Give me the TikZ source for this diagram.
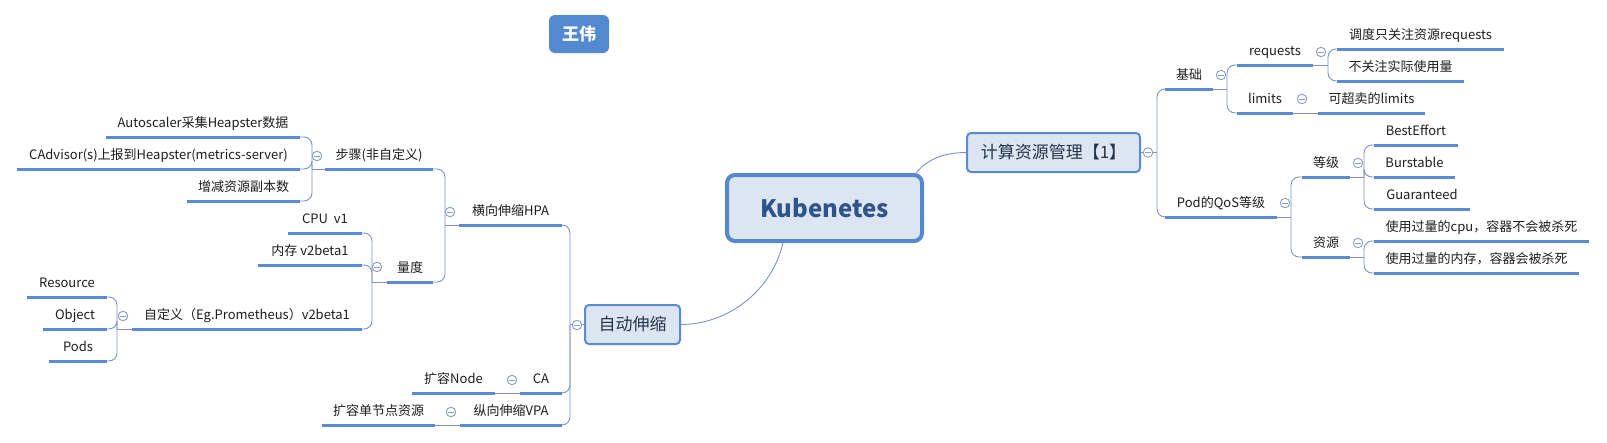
\documentclass[tikz,border=0pt]{standalone}
\usepackage{fontspec}
\setmainfont{Noto Sans CJK SC}
\definecolor{ulc}{HTML}{5A8AD0}
\definecolor{conc}{HTML}{7D93C6}
\definecolor{boxfill}{HTML}{DCE6F2}
\definecolor{boxdraw}{HTML}{5A8AD0}
\definecolor{rootdraw}{HTML}{5588CC}
\definecolor{roottext}{HTML}{2F5489}
\definecolor{boxtext}{HTML}{243447}
\definecolor{leaftext}{HTML}{1E1E1E}
\definecolor{foldc}{HTML}{8A9FC6}
\definecolor{namefill}{HTML}{5289CF}
\newcommand\lfnt{\fontsize{13}{15}\selectfont}
\newcommand\bxfnt{\fontsize{17}{20}\selectfont}
\begin{document}
\begin{tikzpicture}[x=1pt,y=-1pt,
  leaf/.style={font=\lfnt, text=leaftext, inner sep=0pt, minimum height=26pt,
    text height=10pt, text depth=3pt, anchor=south, align=center},
  ul/.style={draw=ulc, line width=3pt},
  con/.style={draw=conc, line width=0.9pt, rounded corners=8pt},
  rootcon/.style={draw=conc, line width=0.9pt},
  box/.style={draw=boxdraw, line width=2pt, fill=boxfill, rounded corners=4pt,
    font=\bxfnt, text=boxtext, inner sep=0pt},
  fold/.style={circle, draw=foldc, fill=white, line width=0.9pt, minimum size=9.5pt, inner sep=0pt,
    path picture={\draw[foldc, line width=0.9pt] ([xshift=-2.6pt]path picture bounding box.center) -- ([xshift=2.6pt]path picture bounding box.center);}}
]
\useasboundingbox[fill=white] (0,0) rectangle (1607,442);

% ---- main boxes ----
\node[draw=rootdraw, line width=4pt, fill=boxfill, rounded corners=8pt,
  minimum width=195pt, minimum height=66pt, inner sep=0pt,
  font=\bfseries\fontsize{24}{28}\selectfont, text=roottext] (k) at (824.5,208) {Kubenetes};
\node[box, minimum width=95pt, minimum height=39pt] (zd) at (632.5,324.5) {自动伸缩};
\node[box, minimum width=173pt, minimum height=39pt] (calc) at (1053.5,152.5) {计算资源管理【1】};
\node[fill=namefill, rounded corners=6pt, minimum width=60pt, minimum height=38pt, inner sep=0pt,
  text=white, font=\bfseries\fontsize{17}{20}\selectfont] (ww) at (579,34) {王伟};

% ---- left side nodes ----
\node[leaf, minimum width=194pt] (auto) at (203,137) {Autoscaler采集Heapster数据};
\node[leaf, minimum width=283pt] (cadv) at (158.5,169) {CAdvisor(s)上报到Heapster(metrics-server)};
\node[leaf, minimum width=113pt] (zeng) at (243.5,201) {增减资源副本数};
\node[leaf, minimum width=108pt] (buzhou) at (379,169) {步骤(非自定义)};
\node[leaf, minimum width=103pt] (hpa) at (510.5,225) {横向伸缩HPA};
\node[leaf, minimum width=46pt] (liangdu) at (410,282) {量度};
\node[leaf, minimum width=74pt] (cpu) at (325,233) {CPU~~v1};
\node[leaf, minimum width=104pt] (mem) at (310,265) {内存 v2beta1};
\node[leaf, minimum width=230pt] (custom) at (247,329) {自定义（Eg.Prometheus）v2beta1};
\node[leaf, minimum width=80pt] (res) at (67,297) {Resource};
\node[leaf, minimum width=64pt] (obj) at (75,329) {Object};
\node[leaf, minimum width=58pt] (pods) at (78,361) {Pods};
\node[leaf, minimum width=42pt] (ca) at (541,393) {CA};
\node[leaf, minimum width=83pt] (knode) at (453.5,393) {扩容Node};
\node[leaf, minimum width=102pt] (vpa) at (511,425) {纵向伸缩VPA};
\node[leaf, minimum width=113pt] (single) at (378.5,425) {扩容单节点资源};

% ---- right side nodes ----
\node[leaf, minimum width=48pt] (jichu) at (1189,89) {基础};
\node[leaf, minimum width=76pt] (req) at (1275,65) {requests};
\node[leaf, minimum width=56pt] (lim) at (1265,113) {limits};
\node[leaf, minimum width=167pt] (sched) at (1420.5,49) {调度只关注资源requests};
\node[leaf, minimum width=127pt] (noc) at (1400.5,81) {不关注实际使用量};
\node[leaf, minimum width=107pt] (over) at (1371.5,113) {可超卖的limits};
\node[leaf, minimum width=112pt] (qos) at (1221,217) {Pod的QoS等级};
\node[leaf, minimum width=48pt] (dengji) at (1326,177) {等级};
\node[leaf, minimum width=48pt] (ziyuan) at (1326,257) {资源};
\node[leaf, minimum width=84pt] (be) at (1416,145) {BestEffort};
\node[leaf, minimum width=81pt] (bu) at (1414.5,177) {Burstable};
\node[leaf, minimum width=96pt] (gu) at (1422,209) {Guaranteed};
\node[leaf, minimum width=215pt] (cpuk) at (1481.5,241) {使用过量的cpu，容器不会被杀死};
\node[leaf, minimum width=205pt] (memk) at (1476.5,273) {使用过量的内存，容器会被杀死};

% ---- junctions ----
\coordinate (jzd) at (570,324.5);
\coordinate (jhpa) at (445,225);
\coordinate (jbz) at (312,169);
\coordinate (jld) at (372,282);
\coordinate (jcu) at (117,329);
\coordinate (jcalc) at (1157,152.5);
\coordinate (jjc) at (1227,89);
\coordinate (jreq) at (1328,65);
\coordinate (jqos) at (1291,217);
\coordinate (jdj) at (1364,177);
\coordinate (jzy) at (1364,257);

% ---- root connectors ----
\draw[rootcon] ([xshift=-41.5pt]k.south) .. controls +(-12,50) and +(45,0) .. (zd.east);
\draw[rootcon] ([xshift=-8pt]k.north east) .. controls +(10,-12) and +(-25,0) .. (calc.west);

% ---- left connectors ----
\draw[con] (zd.west) -- (jzd);
\draw[con] (jzd) |- (hpa.south east);
\draw[con] (jzd) |- (ca.south east);
\draw[con] (jzd) |- (vpa.south east);
\draw[con] (hpa.south west) -- (jhpa);
\draw[con] (jhpa) |- (buzhou.south east);
\draw[con] (jhpa) |- (liangdu.south east);
\draw[con] (buzhou.south west) -- (jbz);
\draw[con] (jbz) |- (auto.south east);
\draw[con] (jbz) |- (cadv.south east);
\draw[con] (jbz) |- (zeng.south east);
\draw[con] (liangdu.south west) -- (jld);
\draw[con] (jld) |- (cpu.south east);
\draw[con] (jld) |- (mem.south east);
\draw[con] (jld) |- (custom.south east);
\draw[con] (custom.south west) -- (jcu);
\draw[con] (jcu) |- (res.south east);
\draw[con] (jcu) |- (obj.south east);
\draw[con] (jcu) |- (pods.south east);
\draw[con] (ca.south west) -- (knode.south east);
\draw[con] (vpa.south west) -- (single.south east);

% ---- right connectors ----
\draw[con] (calc.east) -- (jcalc);
\draw[con] (jcalc) |- (jichu.south west);
\draw[con] (jcalc) |- (qos.south west);
\draw[con] (jichu.south east) -- (jjc);
\draw[con] (jjc) |- (req.south west);
\draw[con] (jjc) |- (lim.south west);
\draw[con] (req.south east) -- (jreq);
\draw[con] (jreq) |- (sched.south west);
\draw[con] (jreq) |- (noc.south west);
\draw[con] (lim.south east) -- (over.south west);
\draw[con] (qos.south east) -- (jqos);
\draw[con] (jqos) |- (dengji.south west);
\draw[con] (jqos) |- (ziyuan.south west);
\draw[con] (dengji.south east) -- (jdj);
\draw[con] (jdj) |- (be.south west);
\draw[con] (jdj) |- (bu.south west);
\draw[con] (jdj) |- (gu.south west);
\draw[con] (ziyuan.south east) -- (jzy);
\draw[con] (jzy) |- (cpuk.south west);
\draw[con] (jzy) |- (memk.south west);

% ---- underlines ----
\foreach \n in {auto,cadv,zeng,buzhou,hpa,liangdu,cpu,mem,custom,res,obj,pods,ca,knode,vpa,single,
  jichu,req,lim,sched,noc,over,qos,dengji,ziyuan,be,bu,gu,cpuk,memk}
  \draw[ul] (\n.south west) -- (\n.south east);

% ---- fold markers ----
\node[fold] (fzd) at (577,325) {};
\node[fold] (fhpa) at (450,212) {};
\node[fold] (fbz) at (317,156) {};
\node[fold] (fld) at (377,267) {};
\node[fold] (fcu) at (123,316) {};
\node[fold] (fca) at (512,380) {};
\node[fold] (fvpa) at (451,412) {};
\node[fold] (fcalc) at (1148,152.5) {};
\node[fold] (fjc) at (1221,75) {};
\node[fold] (freq) at (1321,52) {};
\node[fold] (flim) at (1302,99) {};
\node[fold] (fqos) at (1285,203) {};
\node[fold] (fdj) at (1358,163) {};
\node[fold] (fzy) at (1358,243) {};
\end{tikzpicture}
\end{document}
